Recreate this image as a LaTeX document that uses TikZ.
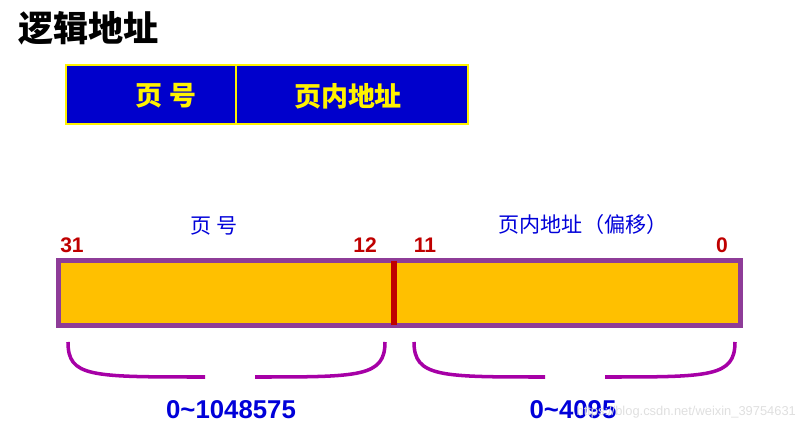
\documentclass[tikz,border=0pt]{standalone}
\usepackage{fontspec}
\setmainfont{Liberation Sans}
\newfontfamily\cjk{Noto Sans CJK SC}
\definecolor{barc}{HTML}{FFC000}
\definecolor{edgec}{HTML}{8E3C98}
\begin{document}
\begin{tikzpicture}[x=0.03cm,y=-0.03cm,
  boxtext/.style={font=\cjk\bfseries\fontsize{23}{25}\selectfont,text=yellow},
  lbl/.style={font=\cjk\fontsize{18}{20}\selectfont,text=blue!85!black},
  num/.style={font=\bfseries\fontsize{18}{20}\selectfont,text=red!75!black},
  rng/.style={font=\bfseries\fontsize{22}{24}\selectfont,text=blue!85!black},
  brc/.style={draw=violet!70!magenta,line width=3pt}]
\useasboundingbox (0,0) rectangle (805,432);
\node[font=\cjk\bfseries\fontsize{30}{32}\selectfont,anchor=west] (title) at (14,28) {逻辑地址};
\node[draw=yellow,line width=2pt,fill=blue!80!black,minimum width=170*0.03cm,minimum height=59*0.03cm,inner sep=0] (pg) at (151,94.5) {};
\node[draw=yellow,line width=2pt,fill=blue!80!black,minimum width=232*0.03cm,minimum height=59*0.03cm,inner sep=0] (off) at (352,94.5) {};
\node[boxtext] (t1) at (166,96) {页 号};
\node[boxtext] (t2) at (348,96) {页内地址};
\node[lbl] (l1) at (214,226) {页 号};
\node[lbl] (l2) at (583,224) {页内地址（偏移）};
\node[num] (n31) at (72,245) {31};
\node[num] (n12) at (365,245) {12};
\node[num] (n11) at (425,245) {11};
\node[num] (n0) at (722,245) {0};
\node[draw=edgec,line width=4.5pt,fill=barc,minimum width=682*0.03cm,minimum height=65*0.03cm,inner sep=0] (bar) at (399.5,293) {};
\coordinate (d1) at (394,261); \coordinate (d2) at (394,325);
\draw[red!75!black,line width=4.5pt] (d1) -- (d2);
\coordinate (a1) at (68,342); \coordinate (a2) at (385,342);
\coordinate (b1) at (414,342); \coordinate (b2) at (735,342);
\draw[brc] (a1) .. controls (68,377) and (90,377) .. (205,377);
\draw[brc] (255,377) .. controls (360,377) and (385,377) .. (a2);
\draw[brc] (b1) .. controls (414,377) and (440,377) .. (545,377);
\draw[brc] (605,377) .. controls (710,377) and (735,377) .. (b2);
\node[rng] (r1) at (231,410) {0\textasciitilde1048575};
\node[rng] (r2) at (573,410) {0\textasciitilde4095};
\node[font=\fontsize{11}{13}\selectfont,text=gray!25,anchor=east] (wm) at (800,412) {https://blog.csdn.net/weixin\_39754631};
\end{tikzpicture}
\end{document}
